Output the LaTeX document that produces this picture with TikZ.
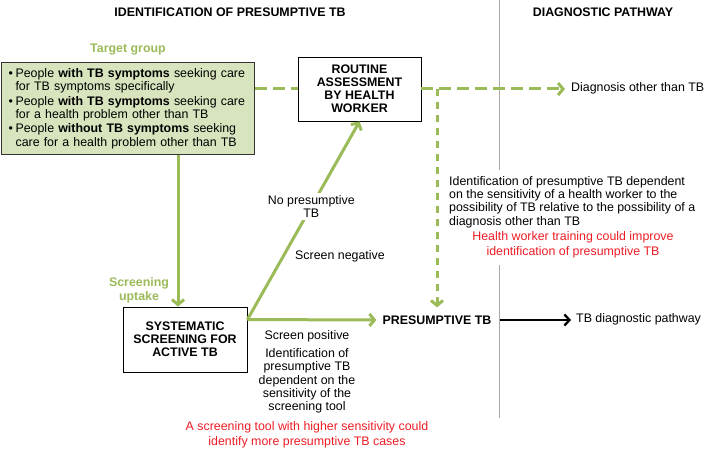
\documentclass[tikz,border=0pt]{standalone}
\usepackage{fontspec}
\setmainfont{Liberation Sans}
\usetikzlibrary{arrows.meta}
\definecolor{tbgreen}{RGB}{155,187,89}
\definecolor{tbfill}{RGB}{215,228,189}
\definecolor{tbred}{RGB}{237,28,36}
\definecolor{tbgrey}{RGB}{170,170,170}
\begin{document}
\begin{tikzpicture}[x=1pt,y=-1pt,
  every node/.style={font=\fontsize{12.4}{13.3}\selectfont, inner sep=0pt},
  boldtxt/.style={font=\fontsize{12.4}{13.3}\selectfont\bfseries},
  greentxt/.style={font=\fontsize{12.4}{14}\selectfont\bfseries, text=tbgreen, align=center},
  redtxt/.style={text=tbred, align=center, font=\fontsize{12.4}{14.5}\selectfont},
  box/.style={draw=black, line width=0.9pt, fill=white, align=center, font=\fontsize{12.4}{13}\selectfont\bfseries},
  targetbox/.style={draw=black!80, line width=1.1pt, fill=tbfill, align=left},
  gline/.style={draw=tbgreen, line width=3pt},
  garrow/.style={gline, -{Straight Barb[length=5pt,width=12pt]}},
  gdash/.style={gline, dash pattern=on 12pt off 6pt},
  gdasharrow/.style={garrow, dash pattern=on 12pt off 6pt},
  gvdasharrow/.style={garrow, dash pattern=on 7pt off 6pt},
  barrow/.style={draw=black, line width=2.3pt, -{Straight Barb[length=5pt,width=11pt]}},
  divider/.style={draw=tbgrey, line width=1pt}
]
\useasboundingbox (0,0) rectangle (707,449);

% headings
\node[boldtxt] (t1) at (230,12) {IDENTIFICATION OF PRESUMPTIVE TB};
\node[boldtxt] (t2) at (603,12) {DIAGNOSTIC PATHWAY};

% divider
\draw[divider] (499,0) -- (499,170);
\draw[divider] (499,265) -- (499,418);

% target group
\node[greentxt] (tg) at (128,50) {Target group};
\node[targetbox, anchor=north west, minimum width=253pt, minimum height=92pt,
      text width=239pt, inner xsep=7pt] (target) at (1,62)
{\makebox[7pt][l]{•}People \textbf{with TB symptoms} seeking care\\
\hspace*{7pt}for TB symptoms specifically\\[1.2pt]
\makebox[7pt][l]{•}People \textbf{with TB symptoms} seeking care\\
\hspace*{7pt}for a health problem other than TB\\[1.2pt]
\makebox[7pt][l]{•}People \textbf{without TB symptoms} seeking\\
\hspace*{7pt}care for a health problem other than TB};

% boxes
\node[box, minimum width=123pt, minimum height=64pt] (routine) at (359.5,89) {ROUTINE\\ASSESSMENT\\BY HEALTH\\WORKER};
\node[box, minimum width=124pt, minimum height=65pt] (sys) at (185,339.5) {SYSTEMATIC\\SCREENING FOR\\ACTIVE TB};
\node[boldtxt] (pres) at (437,320) {PRESUMPTIVE TB};
\node[anchor=west] (tbpath) at (576,319) {TB diagnostic pathway};
\node[anchor=west] (other) at (571,88) {Diagnosis other than TB};

% labels
\node[greentxt] (su) at (139,290) {Screening\\uptake};
\node (sn) at (340,256) {Screen negative};
\node (sp) at (307,336) {Screen positive};
\node[align=center] (idsc) at (307,381) {Identification of\\presumptive TB\\dependent on the\\sensitivity of the\\screening tool};
\node[redtxt] (redsc) at (307,435) {A screening tool with higher sensitivity could\\identify more presumptive TB cases};
\node[align=left, anchor=west] (idhw) at (449,202) {Identification of presumptive TB dependent\\on the sensitivity of a health worker to the\\possibility of TB relative to the possibility of a\\diagnosis other than TB};
\node[redtxt] (redhw) at (573,245) {Health worker training could improve\\identification of presumptive TB};

% connectors
\coordinate (ux) at (178,0);
\draw[garrow] (target.south -| ux) -- (sys.north -| ux);
\draw[garrow] ([yshift=-13pt]sys.north east) -- node[pos=0.57, fill=white, inner sep=2pt, align=center] (np) {No presumptive\\TB} (routine.south);
\draw[garrow, shorten >=6pt] ([yshift=-13pt]sys.north east) -- (pres.west);
\draw[barrow, shorten <=8pt, shorten >=5pt] (pres.east) -- (pres.east -| tbpath.west);
\draw[gdash] (routine.west -| target.east) -- (routine.west);
\draw[gdasharrow, shorten >=6pt] (routine.east) -- (routine.east -| other.west);
\draw[gvdasharrow, shorten >=8pt] (pres.north |- routine.east) -- (pres.north);
\end{tikzpicture}
\end{document}
